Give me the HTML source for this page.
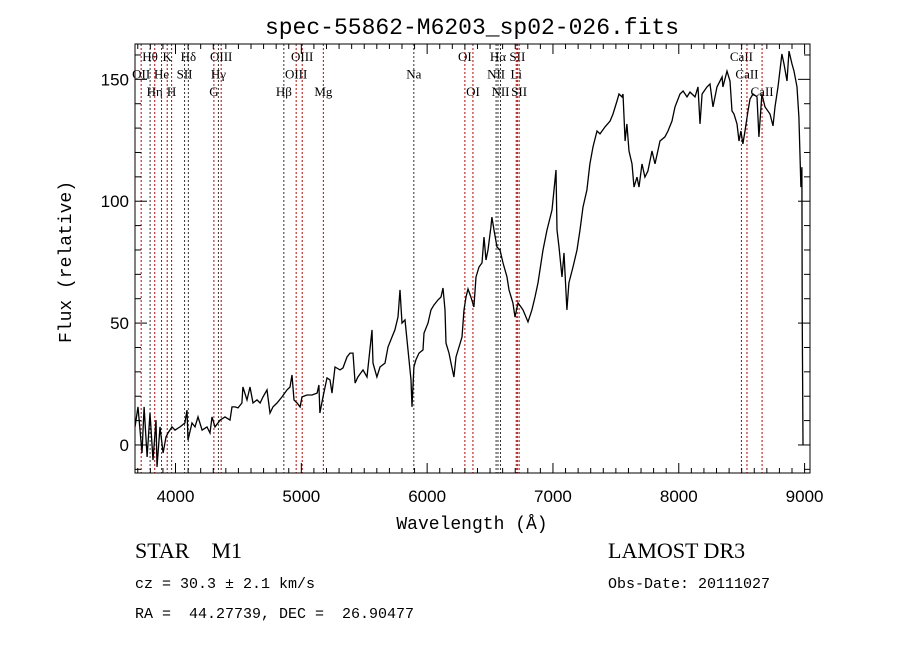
<!DOCTYPE html>
<html><head><meta charset="utf-8"><style>
html,body{margin:0;padding:0;background:#fff;width:900px;height:649px;overflow:hidden}
svg{display:block}
</style></head><body>
<svg id="chart" width="900" height="649" xmlns="http://www.w3.org/2000/svg" font-family="'Liberation Sans', sans-serif">
<text x="472" y="34" text-anchor="middle" font-family="'Liberation Mono', monospace" font-size="23">spec-55862-M6203_sp02-026.fits</text>
<text x="472" y="529" text-anchor="middle" font-family="'Liberation Mono', monospace" font-size="18">Wavelength (Å)</text>
<text x="0" y="0" transform="translate(71,262) rotate(-90)" text-anchor="middle" font-family="'Liberation Mono', monospace" font-size="18">Flux (relative)</text>
<g id="lines"></g>
<g id="ticks"></g>
<path id="spec" fill="none" stroke="#000" stroke-width="1.3" stroke-linejoin="miter"/>
<rect x="135" y="44" width="675" height="429" fill="none" stroke="#000" stroke-width="1"/>
<text x="135" y="558" font-family="'Liberation Serif', serif" font-size="22" xml:space="preserve">STAR    M1</text>
<text x="608" y="558" font-family="'Liberation Serif', serif" font-size="22">LAMOST DR3</text>
<text x="135" y="588" font-family="'Liberation Mono', monospace" font-size="15" xml:space="preserve">cz = 30.3 ± 2.1 km/s</text>
<text x="608" y="588" font-family="'Liberation Mono', monospace" font-size="15">Obs-Date: 20111027</text>
<text x="135" y="618" font-family="'Liberation Mono', monospace" font-size="15" xml:space="preserve">RA =  44.27739, DEC =  26.90477</text>
</svg>
<script>
const waves = [3678,3702,3734,3750,3774,3797,3821,3845,3853,3877,3901,3924,3940,3972,3996,4036,4075,4091,4099,4131,4155,4179,4211,4250,4274,4290,4314,4354,4393,4433,4449,4473,4497,4528,4536,4568,4592,4616,4648,4672,4695,4727,4751,4775,4807,4846,4886,4910,4926,4942,4966,4990,5005,5045,5085,5125,5140,5148,5172,5204,5228,5244,5268,5307,5331,5363,5387,5411,5427,5450,5490,
5522,5562,5570,5601,5625,5665,5689,5721,5744,5768,5784,5800,5824,5848,5872,5880,5895,5911,5935,5967,5975,6007,6031,6054,6086,6110,6126,6142,6150,6174,6190,6213,6229,6253,6277,6293,6309,6325,6348,6372,6388,6412,6436,6452,6468,6484,6507,6515,6531,6555,6579,6603,6635,6651,6682,6698,6722,6746,6762,6802,6833,6857,6881,6921,6953,6992,7008,7024,7032,7048,7072,7088,7111,7127,7159,7191,7215,7239,7270,7294,
7318,7350,7374,7414,7454,7477,7509,7525,7549,7557,7573,7588,7604,7628,7644,7668,7684,7708,7731,7755,7787,7811,7851,7890,7914,7946,7970,8010,8034,8065,8089,8129,8153,8169,8185,8224,8248,8272,8304,8344,8351,8383,8407,8423,8439,8463,8479,8494,8510,8526,8550,8566,8590,8622,8637,8661,8685,8725,8749,8765,8789,8820,8836,8860,8876,8900,8916,8940,8955,8971,8979,8981,8987];
const flux = [7.4,15.6,-3.3,15.6,-4.9,13.1,-6.2,10.2,-9.0,7.4,-3.3,3.3,4.9,7.4,6.1,7.4,9.0,14.3,2.0,9.0,7.4,11.5,6.1,7.4,4.9,11.5,7.4,10.2,11.5,10.2,15.6,15.6,15.2,17.2,23.8,18.5,23.8,17.2,18.5,17.2,19.7,22.6,13.1,15.6,17.2,19.7,22.6,23.8,28.7,18.5,17.2,15.6,19.7,20.5,20.5,21.3,24.6,13.1,19.7,27.5,26.7,21.3,32.0,30.8,31.6,36.1,37.7,37.7,25.4,27.9,30.8,
27.9,47.2,33.6,27.9,32.0,33.6,40.2,44.3,47.2,52.5,63.6,50.0,51.3,39.0,26.7,15.6,32.0,34.9,37.7,39.0,45.9,50.0,55.4,57.4,59.5,60.7,64.4,55.4,41.8,37.7,33.6,27.9,36.1,40.2,44.3,55.4,60.7,64.0,60.7,56.6,68.9,73.0,74.7,85.3,75.9,80.0,89.4,93.5,88.2,81.2,80.0,74.7,68.9,63.6,58.3,52.5,58.3,56.6,55.4,50.5,55.4,60.7,66.5,80.0,88.2,96.4,104.6,112.8,88.2,81.2,68.9,78.8,55.4,66.5,73.0,80.0,88.2,97.6,104.6,115.3,
122.3,128.8,127.6,130.5,132.9,135.8,141.1,144.0,142.8,144.0,124.7,131.7,120.6,115.3,105.8,109.9,105.8,115.3,109.9,112.4,120.6,115.3,124.7,126.4,128.8,132.9,138.7,144.0,145.2,142.8,144.8,142.8,146.9,131.7,144.0,146.9,148.1,138.7,146.9,151.0,146.9,153.4,149.3,137.0,135.8,131.7,124.7,128.8,123.5,128.8,137.0,141.9,144.0,142.8,126.4,144.0,138.7,135.8,130.9,138.7,146.9,160.4,156.3,149.3,161.6,156.3,153.4,146.9,134.6,105.8,114.0,55,0];
const lineWaves = [3727,3798,3835,3889,3934,3969,4072,4102,4305,4341,4363,4861,4959,5007,5175,5894,6300,6364,6548,6563,6583,6708,6717,6731,8498,8542,8662];
const lineNames = ["OII","Hθ","Hη","He","K","H","SII","Hδ","G","Hγ","OIII","Hβ","OIII","OIII","Mg","Na","OI","OI","NII","Hα","NII","Li","SII","SII","CaII","CaII","CaII"];
const lineRows = [2,1,3,2,1,3,2,1,3,2,1,3,2,1,3,2,1,3,2,1,3,2,1,3,1,2,3];
const lineRed = [1,0,1,1,1,1,0,0,1,0,1,0,1,1,1,0,1,1,0,0,0,1,1,1,1,1,1];
const xTicks = [4000,5000,6000,7000,8000,9000];
const yTicks = [0,50,100,150];

const X0=135,X1=810,Y0=44,Y1=473, WMIN=3678, WMAX=9043, FMIN=-11.5, FMAX=164.5;
const sx = w => X0 + (w-WMIN)/(WMAX-WMIN)*(X1-X0);
const sy = f => Y1 - (f-FMIN)/(FMAX-FMIN)*(Y1-Y0);
const NS="http://www.w3.org/2000/svg";
function mk(tag, attrs, parent){const e=document.createElementNS(NS,tag);for(const k in attrs)e.setAttribute(k,attrs[k]);parent.appendChild(e);return e;}

let d="";
for(let i=0;i<waves.length;i++){d+=(i?"L":"M")+sx(waves[i]).toFixed(1)+","+sy(flux[i]).toFixed(1);}
document.getElementById("spec").setAttribute("d",d);

const lg=document.getElementById("lines");
for(let i=0;i<lineWaves.length;i++){
  const x=sx(lineWaves[i]);
  const l=mk("line",{x1:x,x2:x,y1:Y0,y2:Y1,stroke:lineRed[i]?"#c00000":"#333","stroke-width":1,"stroke-dasharray":"2,2"},lg);
  
  
  const t=mk("text",{x:x,y:Y0+17+(lineRows[i]-1)*17.5,"text-anchor":"middle","font-family":"'Liberation Serif', serif","font-size":13},lg);
  
  
  t.textContent=lineNames[i];
}

const tg=document.getElementById("ticks");
for(let w=3700;w<=9000;w+=100){
  const x=sx(w), major=(w%1000===0);
  const L=major?10:5;
  mk("line",{x1:x,x2:x,y1:Y1,y2:Y1-L,stroke:"#000"},tg);
  mk("line",{x1:x,x2:x,y1:Y0,y2:Y0+L,stroke:"#000"},tg);
}
for(const w of xTicks){
  const t=mk("text",{x:sx(w),y:502,"text-anchor":"middle","font-size":17},tg);
  
  
  t.textContent=w;
}
for(let f=-10;f<=160;f+=10){
  const y=sy(f), major=(f%50===0);
  const L=major?12:6;
  mk("line",{x1:X0,x2:X0+L,y1:y,y2:y,stroke:"#000"},tg);
  mk("line",{x1:X1,x2:X1-L,y1:y,y2:y,stroke:"#000"},tg);
}
for(const f of yTicks){
  const t=mk("text",{x:129,y:sy(f)+6,"text-anchor":"end","font-size":17},tg);
  
  
  t.textContent=f;
}
</script>
</body></html>
